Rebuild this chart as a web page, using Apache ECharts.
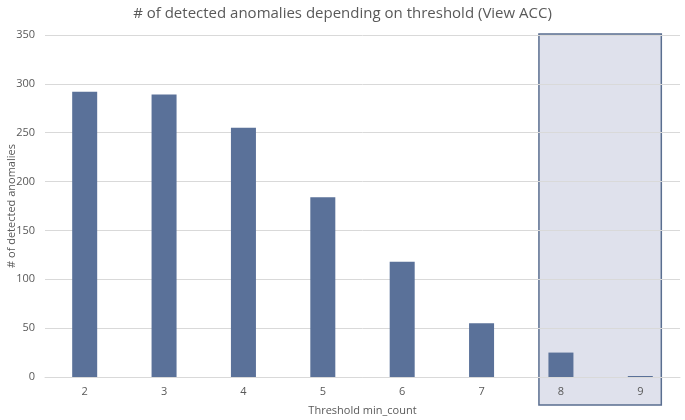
<!DOCTYPE html>
<html><head><meta charset="utf-8">
<script src="https://cdn.jsdelivr.net/npm/echarts@6/dist/echarts.min.js"></script>
<style>html,body{margin:0;padding:0;background:#fff}#c{width:685px;height:420px}</style>
</head><body><div id="c"></div>
<script>
const categories = ['2','3','4','5','6','7','8','9'];
const anomalies = [292, 289, 255, 184, 118, 55, 25, 1];
const highlightFrom = '8';
const highlightTo = '9';

const chart = echarts.init(document.getElementById('c'));
const txt = '#595959';
chart.setOption({
  animation: false,
  title: {text: '# of detected anomalies depending on threshold (View ACC)', left: 'center', top: 1,
    textStyle: {fontFamily: 'Open Sans', fontSize: 15, fontWeight: 'normal', color: txt}},
  grid: {left: 45, right: 5, top: 35, bottom: 43, containLabel: false, outerBoundsMode: 'none'},
  xAxis: {type: 'category', data: categories, name: 'Threshold min_count', nameLocation: 'middle', nameGap: 28,
    nameMoveOverlap: false,
    nameTextStyle: {fontFamily: 'Open Sans', fontSize: 11, color: txt},
    axisLine: {lineStyle: {color: '#d9d9d9'}}, axisTick: {show: false},
    axisLabel: {fontFamily: 'Open Sans', fontSize: 11, color: txt, margin: 9}},
  yAxis: {type: 'value', min: 0, max: 350, interval: 50, name: '# of detected anomalies', nameLocation: 'middle', nameGap: 28,
    nameMoveOverlap: false,
    nameTextStyle: {fontFamily: 'Open Sans', fontSize: 11, color: txt},
    splitLine: {lineStyle: {color: '#d9d9d9'}},
    axisLabel: {fontFamily: 'Open Sans', fontSize: 11, color: txt, margin: 10}},
  series: [{type: 'bar', data: anomalies, barWidth: '31.5%', itemStyle: {color: '#5a7199'}, z: 5}]
});

function drawBox() {
  const x1 = chart.convertToPixel({xAxisIndex: 0}, highlightFrom);
  const x2 = chart.convertToPixel({xAxisIndex: 0}, highlightTo);
  const yTop = chart.convertToPixel({yAxisIndex: 0}, 350);
  const yBot = chart.convertToPixel({yAxisIndex: 0}, 0);
  const left = x1 - 22, right = x2 + 21, top = yTop - 1, bottom = yBot + 28;
  chart.setOption({graphic: [{type: 'rect', z: -1, silent: true,
    shape: {x: left, y: top, width: right - left, height: bottom - top},
    style: {fill: 'rgba(80,90,150,0.18)', stroke: '#5a6e90', lineWidth: 1.5}}]});
}
drawBox();
</script></body></html>
